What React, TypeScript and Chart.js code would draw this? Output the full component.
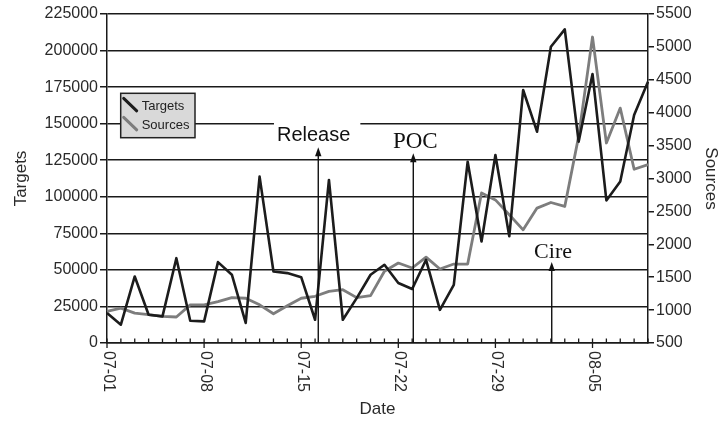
import React, { useEffect, useRef } from "react";
import { Chart, registerables } from "chart.js";

Chart.register(...registerables);

const dateLabels = [
  "07-01", "07-02", "07-03", "07-04", "07-05", "07-06", "07-07", "07-08", "07-09", "07-10",
  "07-11", "07-12", "07-13", "07-14", "07-15", "07-16", "07-17", "07-18", "07-19", "07-20",
  "07-21", "07-22", "07-23", "07-24", "07-25", "07-26", "07-27", "07-28", "07-29", "07-30",
  "07-31", "08-01", "08-02", "08-03", "08-04", "08-05", "08-06", "08-07", "08-08", "08-09",
];

const targets = [
  20500, 12500, 45500, 19300, 18200, 58000, 15200, 14800, 55300, 46700,
  13700, 113800, 48900, 47800, 45000, 15900, 111500, 15900, 30700, 46700,
  53500, 41000, 36900, 56900, 22700, 39800, 124000, 69400, 128600, 73000,
  173000, 144500, 202600, 214500, 137700, 184000, 97500, 110400, 156000, 178700,
];

const sources = [
  980, 1030, 955, 930, 905, 895, 1080, 1080, 1130, 1190,
  1180, 1080, 945, 1065, 1180, 1210, 1285, 1310, 1190, 1220,
  1590, 1715, 1640, 1805, 1625, 1700, 1700, 2780, 2675, 2450,
  2220, 2550, 2635, 2575, 3640, 5150, 3540, 4070, 3140, 3210,
];

// every 7th day is a labelled tick
const labelEvery = 7;

// annotations (event name, day position as fractional index, arrow tip in Targets units)
const annotationTexts = ["Release", "POC", "Cire"];
const annotationDays = [15.23, 22.08, 32.06];
const annotationTips = [133800, 129700, 55400];

const SANS = "'Liberation Sans', Arial, sans-serif";
const SERIF = "'Liberation Serif', 'Times New Roman', serif";
const INK = "#1a1a1a";
const TEXT = "#2a2a2a";

const customPlugin = {
  id: "customDecor",
  afterDatasetsDraw(chart: any) {
    const { ctx, chartArea, scales } = chart;
    const xs = scales.x;
    const ys = scales.y;
    const bottom = chartArea.bottom;

    // x ticks and rotated labels
    ctx.save();
    ctx.strokeStyle = INK;
    ctx.lineWidth = 1.3;
    for (let i = 0; i < dateLabels.length; i++) {
      const x = xs.getPixelForValue(i);
      const major = i % labelEvery === 0;
      ctx.beginPath();
      ctx.moveTo(x, bottom - 4.5);
      ctx.lineTo(x, major ? bottom + 5 : bottom);
      ctx.stroke();
      if (major) {
        ctx.save();
        ctx.translate(x + 1, bottom + 8);
        ctx.rotate(Math.PI / 2);
        ctx.fillStyle = TEXT;
        ctx.font = `16px ${SANS}`;
        ctx.textAlign = "left";
        ctx.textBaseline = "middle";
        ctx.fillText(dateLabels[i], 0, 0);
        ctx.restore();
      }
    }
    ctx.restore();

    // annotations
    const styles = [
      { font: `20px ${SANS}`, dx: -4.6, dy: -6.6, box: true },
      { font: `23px ${SERIF}`, dx: 2, dy: -5, box: false },
      { font: `22px ${SERIF}`, dx: 1.3, dy: -3.5, box: false },
    ];
    for (let k = 0; k < annotationTexts.length; k++) {
      const x = xs.getPixelForValue(annotationDays[k]);
      const tipY = ys.getPixelForValue(annotationTips[k]);
      const st = styles[k];
      ctx.save();
      ctx.font = st.font;
      const w = ctx.measureText(annotationTexts[k]).width;
      const cx = x + st.dx;
      const by = tipY + st.dy;
      if (st.box) {
        ctx.fillStyle = "#ffffff";
        ctx.fillRect(cx - w / 2 - 3, by - 21, w + 13, 26);
      }
      ctx.fillStyle = "#111";
      ctx.textAlign = "center";
      ctx.textBaseline = "alphabetic";
      ctx.fillText(annotationTexts[k], cx, by);
      // arrow
      ctx.strokeStyle = "#111";
      ctx.lineWidth = 1.4;
      ctx.beginPath();
      ctx.moveTo(x, bottom);
      ctx.lineTo(x, tipY + 6);
      ctx.stroke();
      ctx.fillStyle = "#111";
      ctx.beginPath();
      ctx.moveTo(x, tipY);
      ctx.lineTo(x - 3.2, tipY + 9);
      ctx.lineTo(x + 3.2, tipY + 9);
      ctx.closePath();
      ctx.fill();
      ctx.restore();
    }

    // legend box
    const lx = 120.7, ly = 93.3, lw = 74.3, lh = 44.4;
    ctx.save();
    ctx.fillStyle = "#d9d9d9";
    ctx.fillRect(lx, ly, lw, lh);
    ctx.strokeStyle = "#222";
    ctx.lineWidth = 1.5;
    ctx.strokeRect(lx, ly, lw, lh);
    const ds = chart.data.datasets;
    for (let j = 0; j < ds.length; j++) {
      const y0 = ly + 5 + j * 19;
      ctx.strokeStyle = ds[j].borderColor;
      ctx.lineWidth = 3;
      ctx.lineCap = "round";
      ctx.beginPath();
      ctx.moveTo(lx + 3, y0);
      ctx.lineTo(lx + 16, y0 + 12.5);
      ctx.stroke();
      ctx.fillStyle = "#222";
      ctx.font = `13px ${SANS}`;
      ctx.textAlign = "left";
      ctx.textBaseline = "alphabetic";
      ctx.fillText(ds[j].label, lx + 21, y0 + 12);
    }
    ctx.restore();
  },
};

export default function App() {
  const canvasRef = useRef<HTMLCanvasElement | null>(null);

  useEffect(() => {
    if (!canvasRef.current) return;
    const chart = new Chart(canvasRef.current, {
      type: "line",
      data: {
        labels: dateLabels,
        datasets: [
          {
            label: "Targets",
            data: targets,
            yAxisID: "y",
            borderColor: "#1c1c1c",
            borderWidth: 2.6,
            pointRadius: 0,
            tension: 0,
            fill: false,
            borderJoinStyle: "round",
          },
          {
            label: "Sources",
            data: sources,
            yAxisID: "y2",
            borderColor: "#7d7d7d",
            borderWidth: 2.8,
            pointRadius: 0,
            tension: 0,
            fill: false,
            borderJoinStyle: "round",
          },
        ],
      },
      options: {
        animation: false,
        responsive: true,
        maintainAspectRatio: false,
        layout: { padding: { top: 14, left: 0, right: 0, bottom: 0 } },
        plugins: { legend: { display: false }, tooltip: { enabled: false } },
        scales: {
          x: {
            type: "category",
            offset: false,
            ticks: { display: false },
            grid: { display: false, drawTicks: false },
            border: { display: true, color: INK, width: 1.5 },
            title: {
              display: true,
              text: "Date",
              color: TEXT,
              font: { family: SANS, size: 17 },
              padding: { top: 0, bottom: 4 },
            },
            afterFit: (s: any) => {
              s.height = 81;
              s.paddingLeft = 0;
              s.paddingRight = 0;
            },
          },
          y: {
            position: "left",
            min: 0,
            max: 225000,
            ticks: {
              stepSize: 25000,
              color: TEXT,
              font: { family: SANS, size: 16 },
              padding: 2,
              callback: (v: any) => String(v),
            },
            grid: { color: INK, lineWidth: 1.5, tickLength: 7 },
            border: { display: true, color: INK, width: 1.5 },
            title: {
              display: true,
              text: "Targets",
              color: TEXT,
              font: { family: SANS, size: 17 },
              padding: { top: 11, bottom: 0 },
            },
            afterFit: (s: any) => {
              s.width = 107;
              s.paddingTop = 0;
              s.paddingBottom = 0;
            },
          },
          y2: {
            position: "right",
            min: 500,
            max: 5500,
            ticks: {
              stepSize: 500,
              color: TEXT,
              font: { family: SANS, size: 16 },
              padding: 2,
              callback: (v: any) => String(v),
            },
            grid: { drawOnChartArea: false, color: INK, lineWidth: 1.5, tickLength: 6 },
            border: { display: true, color: INK, width: 1.5 },
            title: {
              display: true,
              text: "Sources",
              color: TEXT,
              font: { family: SANS, size: 17 },
              padding: { top: 2, bottom: 0 },
            },
            afterFit: (s: any) => {
              s.width = 75;
              s.paddingTop = 0;
              s.paddingBottom = 0;
            },
          },
        },
      },
      plugins: [customPlugin],
    } as any);
    return () => chart.destroy();
  }, []);

  return (
    <div style={{ position: "absolute", left: 0, top: 0, width: 723, height: 424, background: "#fff" }}>
      <canvas ref={canvasRef} />
    </div>
  );
}
